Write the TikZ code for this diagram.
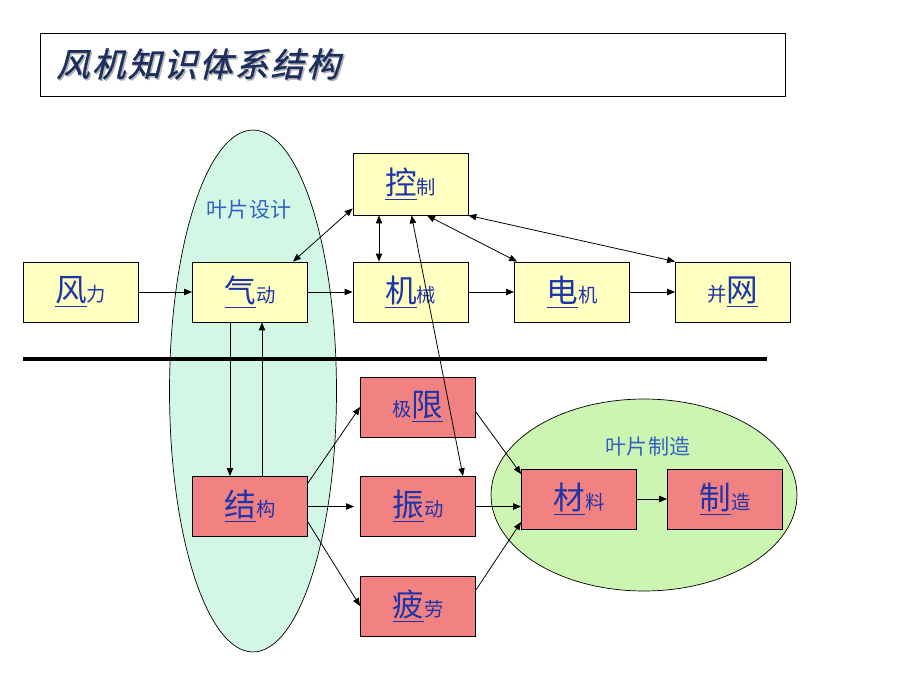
\documentclass[tikz,border=0pt]{standalone}
\usepackage{fontspec}
\setmainfont{Noto Sans CJK SC}
\newfontfamily\titlefont[FakeSlant=0.25,FakeBold=1,LetterSpace=7]{Noto Sans CJK SC}
\usetikzlibrary{arrows.meta,shapes.geometric}

\definecolor{boxyellow}{HTML}{FFFFBF}
\definecolor{boxred}{HTML}{F28282}
\definecolor{designgreen}{HTML}{D2F8E5}
\definecolor{makegreen}{HTML}{CCF5B2}
\definecolor{keyblue}{HTML}{1E34AA}
\definecolor{labelblue}{HTML}{3462C2}
\definecolor{titlenavy}{HTML}{1C2E5E}

\newcommand{\keyc}[1]{{\fontsize{18}{18}\selectfont\underline{#1}}}
\newcommand{\subc}[1]{{\fontsize{11}{11}\selectfont #1}}

\begin{document}
\begin{tikzpicture}[x=0.02cm,y=-0.02cm,
    yellowbox/.style={draw,line width=0.5pt,fill=boxyellow,minimum width=2.3cm,minimum height=1.2cm,inner sep=0pt,text=keyblue},
    redbox/.style={draw,line width=0.5pt,fill=boxred,minimum width=2.3cm,minimum height=1.2cm,inner sep=0pt,text=keyblue},
    arr/.style={line width=0.45pt,-{Triangle[length=4.5pt,width=3.6pt]}},
    darr/.style={line width=0.45pt,{Triangle[length=4.5pt,width=3.6pt]}-{Triangle[length=4.5pt,width=3.6pt]}}]
    \useasboundingbox (0,0) rectangle (920,690);

    % title
    \draw[line width=0.5pt] (40,33) rectangle (785,96);
    \node[anchor=west,text=black!30] (ttlshadow) at (51.5,65.5) {\titlefont\fontsize{19}{19}\selectfont 风机知识体系结构};
    \node[anchor=west,text=titlenavy] (ttl) at (50,64) {\titlefont\fontsize{19}{19}\selectfont 风机知识体系结构};

    % blade areas
    \node[ellipse,draw,line width=0.4pt,fill=designgreen,minimum width=3.34cm,minimum height=10.44cm,inner sep=0pt] (design) at (253,391) {};
    \node[ellipse,draw,line width=0.4pt,fill=makegreen,minimum width=6.12cm,minimum height=3.84cm,inner sep=0pt] (make) at (644,495) {};
    \node[text=labelblue,font=\fontsize{12}{12}\selectfont] (designlbl) at (249,210) {叶片设计};
    \node[text=labelblue,font=\fontsize{12}{12}\selectfont] (makelbl) at (648,447) {叶片制造};

    \draw[line width=2.3pt] (23,359) -- (767,359);

    % upper row
    \node (fl) at (80.5,292) [yellowbox] {\keyc{风}\subc{力}};
    \node (qd) at (250,292) [yellowbox] {\keyc{气}\subc{动}};
    \node (jx) at (410.5,292) [yellowbox] {\keyc{机}\subc{械}};
    \node (dj) at (572,292) [yellowbox] {\keyc{电}\subc{机}};
    \node (bw) at (733,292) [yellowbox] {\subc{并}\keyc{网}};
    \node (kz) at (410.5,184) [yellowbox,minimum height=1.24cm] {\keyc{控}\subc{制}};

    % lower part
    \node (jxian) at (418,407) [redbox] {\subc{极}\keyc{限}};
    \node (jg) at (250,506.5) [redbox] {\keyc{结}\subc{构}};
    \node (zd) at (418,506.5) [redbox] {\keyc{振}\subc{动}};
    \node (pl) at (418,606) [redbox] {\keyc{疲}\subc{劳}};
    \node (cl) at (579,499) [redbox] {\keyc{材}\subc{料}};
    \node (zz) at (725,499) [redbox] {\keyc{制}\subc{造}};

    \draw[arr] (fl.east) -- (qd.west);
    \draw[arr] (qd.east) -- (jx.west);
    \draw[arr] (jx.east) -- (dj.west);
    \draw[arr] (dj.east) -- (bw.west);
    \draw[darr] ([yshift=0.14cm]kz.south west) -- ([xshift=0.86cm]qd.north);
    \draw[darr] ([xshift=-0.63cm]kz.south) -- ([xshift=-0.63cm]jx.north);
    \draw[darr] ([xshift=0.02cm]kz.south) -- ([xshift=0.9cm]zd.north);
    \draw[darr] ([xshift=0.33cm]kz.south) -- ([xshift=0.06cm]dj.north west);
    \draw[darr] (kz.south east) -- (bw.north west);
    \draw[arr] ([xshift=-0.4cm]qd.south) -- ([xshift=-0.4cm]jg.north);
    \draw[arr] ([xshift=0.24cm]jg.north) -- ([xshift=0.24cm]qd.south);
    \draw[arr] ([yshift=0.47cm]jg.east) -- (jxian.west);
    \draw[arr,shorten >=0.12cm] (jg.east) -- (zd.west);
    \draw[arr] ([yshift=-0.31cm]jg.east) -- (pl.west);
    \draw[arr] ([yshift=-0.1cm]jxian.east) -- ([yshift=0.5cm]cl.west);
    \draw[arr] (zd.east) -- (zd.east -| cl.west);
    \draw[arr] ([yshift=0.32cm]pl.east) -- ([yshift=-0.46cm]cl.west);
    \draw[arr] (cl.east) -- (zz.west);
\end{tikzpicture}
\end{document}
